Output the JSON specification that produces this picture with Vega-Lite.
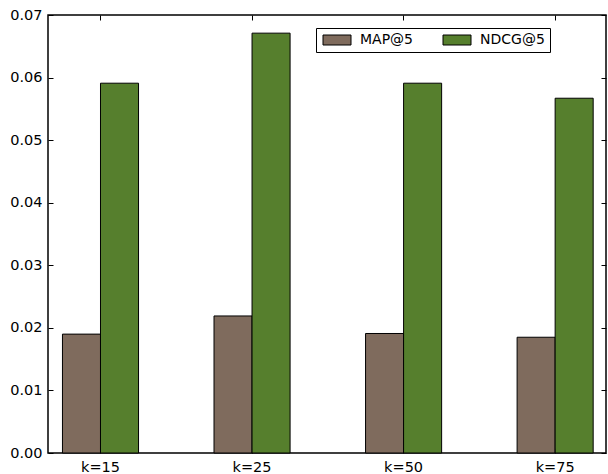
{
  "$schema": "https://vega.github.io/schema/vega-lite/v6.json",
  "autosize": "none",
  "width": 558,
  "height": 438,
  "padding": {"left": 48, "top": 15, "right": 2, "bottom": 21},
  "background": "white",
  "data": {
    "values": [
      {"k": "k=15", "metric": "MAP@5", "value": 0.0190},
      {"k": "k=15", "metric": "NDCG@5", "value": 0.0591},
      {"k": "k=25", "metric": "MAP@5", "value": 0.0219},
      {"k": "k=25", "metric": "NDCG@5", "value": 0.0671},
      {"k": "k=50", "metric": "MAP@5", "value": 0.0191},
      {"k": "k=50", "metric": "NDCG@5", "value": 0.0591},
      {"k": "k=75", "metric": "MAP@5", "value": 0.0185},
      {"k": "k=75", "metric": "NDCG@5", "value": 0.0567}
    ]
  },
  "encoding": {
    "x": {
      "field": "k", "type": "nominal",
      "scale": {"paddingInner": 0.498, "paddingOuter": 0.09, "align": 0.53}
    },
    "xOffset": {"field": "metric", "type": "nominal", "scale": {"paddingInner": 0, "paddingOuter": 0}},
    "y": {"field": "value", "type": "quantitative", "scale": {"domain": [0, 0.07], "nice": false, "zero": true}},
    "color": {
      "field": "metric", "type": "nominal",
      "scale": {"domain": ["MAP@5", "NDCG@5"], "range": ["#7f6b5d", "#567f2d"]}
    }
  },
  "layer": [
    {
      "mark": {"type": "bar", "stroke": "black", "strokeWidth": 1, "fillOpacity": 1},
      "encoding": {
        "x": {
          "field": "k", "type": "nominal",
          "scale": {"paddingInner": 0.498, "paddingOuter": 0.09, "align": 0.53},
          "axis": {"orient": "bottom", "title": null, "labelAngle": 0, "tickSize": -5, "labelPadding": 12, "domain": false}
        },
        "y": {
          "field": "value", "type": "quantitative",
          "scale": {"domain": [0, 0.07], "nice": false},
          "axis": {"orient": "left", "title": null, "values": [0, 0.01, 0.02, 0.03, 0.04, 0.05, 0.06, 0.07], "format": ".2f", "tickSize": -5, "labelPadding": 11, "grid": false, "domain": false}
        }
      }
    },
    {
      "mark": {"type": "bar", "fillOpacity": 0, "strokeOpacity": 0},
      "encoding": {
        "x": {
          "field": "k", "type": "nominal",
          "axis": {"orient": "top", "title": null, "labels": false, "tickSize": -5, "domain": false}
        },
        "y": {
          "field": "value", "type": "quantitative",
          "axis": {"orient": "right", "title": null, "labels": false, "values": [0, 0.01, 0.02, 0.03, 0.04, 0.05, 0.06, 0.07], "tickSize": -5, "grid": false, "domain": false}
        }
      }
    }
  ],
  "resolve": {"axis": {"x": "independent", "y": "independent"}},
  "config": {
    "view": {"stroke": "black", "strokeWidth": 1.5},
    "axis": {
      "labelFont": "DejaVu Sans", "labelFontSize": 14.5, "labelColor": "black",
      "tickColor": "black", "tickWidth": 1, "grid": false
    },
    "legend": {
      "orient": "none", "legendX": 268, "legendY": 13, "direction": "horizontal",
      "title": null, "columns": 2, "strokeColor": "black", "fillColor": "white",
      "padding": 5, "columnPadding": 27, "labelFont": "DejaVu Sans", "labelFontSize": 14,
      "labelColor": "black", "labelOffset": 25,
      "symbolType": "M-1,-1h5.6v2h-5.6z", "symbolSize": 100,
      "symbolStrokeColor": "black", "symbolStrokeWidth": 1, "symbolOpacity": 1
    }
  }
}
